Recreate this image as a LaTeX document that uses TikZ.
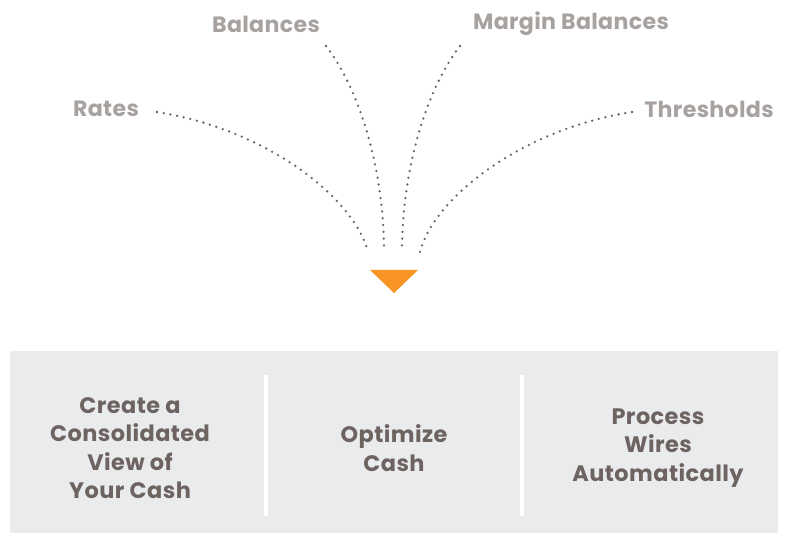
\documentclass[tikz,border=0pt]{standalone}
\usepackage{fontspec}
\setmainfont{Poppins}
\usepackage{tikz}

\definecolor{lblgray}{RGB}{167,162,160}
\definecolor{txtgray}{RGB}{109,100,98}
\definecolor{dotgray}{RGB}{105,98,96}
\definecolor{boxgray}{RGB}{234,235,236}
\definecolor{arroworange}{RGB}{247,148,35}

\tikzset{
  lbl/.style={inner sep=0.75pt, text=lblgray, font=\fontsize{16.6}{18}\selectfont\bfseries\addfontfeatures{LetterSpace=1.5}},
  goal/.style={inner sep=0.75pt, text=txtgray, align=center, font=\fontsize{16.8}{21.4}\selectfont\bfseries\addfontfeatures{LetterSpace=2}},
  dots/.style={dotgray, line width=1.9pt, line cap=round, dash pattern=on 0pt off 5.1pt}
}

\begin{document}
\begin{tikzpicture}[x=0.75pt,y=0.75pt,yscale=-1,xscale=1]
\useasboundingbox (0,0) rectangle (791,534);

%Gray panel
\fill [boxgray] (10,351) rectangle (778,533);
%Dividers
\draw [white, line width=2.4pt] (266,375) -- (266,516);
\draw [white, line width=2.4pt] (522,375) -- (522,516);

%Orange triangle
\fill [arroworange] (370,270) -- (418,270) -- (394,293) -- cycle;

% Text Node
\node [lbl] (rates) at (106,109) {Rates};
% Text Node
\node [lbl] (bal) at (266,24) {Balances};
% Text Node
\node [lbl] (mbal) at (571,24) {Margin Balances};
% Text Node
\node [lbl] (thr) at (709,109) {Thresholds};

%Curve ends
\coordinate (ratesA) at (157,112);
\coordinate (balA) at (326,46);
\coordinate (mbalA) at (460,46);
\coordinate (thrA) at (632,112);
\coordinate (ratesB) at (368,252);
\coordinate (balB) at (384,252);
\coordinate (mbalB) at (402,252);
\coordinate (thrB) at (420,252);

%Dotted curves
\draw [dots] (ratesA) .. controls (270,130) and (355,200) .. (ratesB);
\draw [dots] (balA) .. controls (360,90) and (384,170) .. (balB);
\draw [dots] (mbalA) .. controls (426,90) and (402,170) .. (mbalB);
\draw [dots] (thrA) .. controls (518,130) and (433,200) .. (thrB);

% Text Node
\node [goal] (view) at (130,448) {Create a\\Consolidated\\View of\\Your Cash};
% Text Node
\node [goal] (opt) at (394,448) {Optimize\\Cash};
% Text Node
\node [goal] (wires) at (658,448) {Process\\Wires\\Automatically};

\end{tikzpicture}
\end{document}
